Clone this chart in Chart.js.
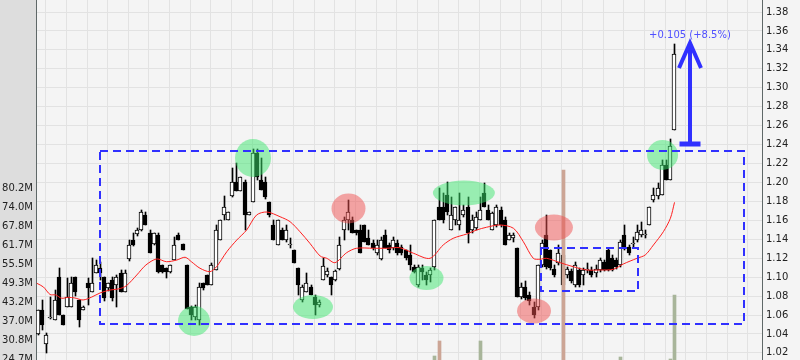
<!DOCTYPE html>
<html>
<head>
<meta charset="utf-8">
<script src="https://cdn.jsdelivr.net/npm/chart.js@4.4.1/dist/chart.umd.min.js"></script>
<style>
  html, body { margin: 0; padding: 0; background: #f4f4f4; }
  canvas { display: block; }
</style>
</head>
<body>
<canvas id="chart" width="800" height="360"></canvas>
<script>
// daily candles, index 0..154
const opens = [
  1.0400, 1.0653, 1.0294, 1.0570, 1.0548, 1.1002, 1.0600, 1.0685, 1.0685, 1.1002,
  1.0759, 1.0653, 1.0938, 1.0844, 1.1044, 1.1097, 1.1002, 1.0885, 1.0970, 1.0917,
  1.1044, 1.0844, 1.1192, 1.1392, 1.1456, 1.1498, 1.1656, 1.1466, 1.1350, 1.1445,
  1.1128, 1.1097, 1.1055, 1.1181, 1.1445, 1.1350, 1.1128, 1.0685, 1.0580, 1.0548,
  1.0938, 1.1023, 1.0917, 1.1076, 1.1392, 1.1656, 1.1604, 1.1857, 1.2005, 1.1905,
  1.2005, 1.1656, 1.1794, 1.2311, 1.2026, 1.2005, 1.1794, 1.1551, 1.1340, 1.1498,
  1.1392, 1.1340, 1.1287, 1.1097, 1.0759, 1.0844, 1.0896, 1.0791, 1.0706, 1.0970,
  1.1023, 1.1002, 1.0970, 1.1086, 1.1498, 1.1604, 1.1604, 1.1498, 1.1498, 1.1551,
  1.1413, 1.1361, 1.1255, 1.1192, 1.1445, 1.1340, 1.1308, 1.1361, 1.1319, 1.1287,
  1.1234, 1.1107, 1.0917, 1.1097, 1.1023, 1.1023, 1.1107, 1.1741, 1.1741, 1.1868,
  1.1498, 1.1604, 1.1551, 1.1656, 1.1741, 1.1498, 1.1519, 1.1604, 1.1889, 1.1709,
  1.1498, 1.1551, 1.1709, 1.1604, 1.1392, 1.1413, 1.1308, 1.0791, 1.0896, 1.0812,
  1.0685, 1.0685, 1.1128, 1.1445, 1.1287, 1.1086, 1.1150, 1.1234, 1.1023, 1.1065,
  1.0917, 1.1076, 1.1023, 1.1076, 1.1076, 1.1044, 1.1076, 1.1160, 1.1287, 1.1202,
  1.1181, 1.1128, 1.1445, 1.1319, 1.1350, 1.1392, 1.1445, 1.1445, 1.1551, 1.1815,
  1.1857, 1.1868, 1.2184, 1.2026, 1.2554
];
const highs = [
  1.0653, 1.0759, 1.0410, 1.0791, 1.0864, 1.1097, 1.0600, 1.0990, 1.1002, 1.1002,
  1.0759, 1.0700, 1.0990, 1.1200, 1.1181, 1.1160, 1.1002, 1.0938, 1.1000, 1.1023,
  1.1076, 1.1076, 1.1392, 1.1466, 1.1519, 1.1709, 1.1688, 1.1498, 1.1466, 1.1466,
  1.1128, 1.1097, 1.1128, 1.1424, 1.1466, 1.1350, 1.1128, 1.0700, 1.0706, 1.0938,
  1.0938, 1.1023, 1.1150, 1.1551, 1.1604, 1.1857, 1.1688, 1.2153, 1.2206, 1.2053,
  1.2026, 1.1688, 1.2354, 1.2354, 1.2258, 1.2058, 1.1794, 1.1604, 1.1604, 1.1519,
  1.1551, 1.1413, 1.1287, 1.1097, 1.0917, 1.1044, 1.0917, 1.0812, 1.0759, 1.1202,
  1.1097, 1.1002, 1.1076, 1.1424, 1.1635, 1.1815, 1.1635, 1.1498, 1.1551, 1.1551,
  1.1498, 1.1392, 1.1392, 1.1424, 1.1498, 1.1361, 1.1424, 1.1392, 1.1340, 1.1287,
  1.1340, 1.1128, 1.1128, 1.1128, 1.1055, 1.1097, 1.1604, 1.1942, 1.1889, 1.2005,
  1.1847, 1.1741, 1.1889, 1.1762, 1.1847, 1.1656, 1.1688, 1.1847, 1.1995, 1.1762,
  1.1688, 1.1762, 1.1741, 1.1635, 1.1466, 1.1466, 1.1308, 1.0938, 1.0960, 1.0844,
  1.0738, 1.1128, 1.1392, 1.1656, 1.1287, 1.1128, 1.1340, 1.1392, 1.1107, 1.1086,
  1.1160, 1.1097, 1.1097, 1.1150, 1.1107, 1.1128, 1.1202, 1.1181, 1.1308, 1.1234,
  1.1202, 1.1392, 1.1551, 1.1340, 1.1424, 1.1551, 1.1582, 1.1498, 1.1741, 1.1942,
  1.1995, 1.2237, 1.2237, 1.2460, 1.3462
];
const lows = [
  1.0389, 1.0442, 1.0200, 1.0560, 1.0548, 1.0600, 1.0495, 1.0685, 1.0685, 1.0800,
  1.0470, 1.0650, 1.0706, 1.0844, 1.1044, 1.0970, 1.0750, 1.0855, 1.0750, 1.0685,
  1.0844, 1.0844, 1.1170, 1.1330, 1.1430, 1.1490, 1.1550, 1.1255, 1.1340, 1.1044,
  1.1044, 1.0991, 1.1044, 1.1181, 1.1392, 1.1287, 1.0664, 1.0550, 1.0548, 1.0495,
  1.0864, 1.0917, 1.0917, 1.1076, 1.1392, 1.1604, 1.1604, 1.1847, 1.1905, 1.1905,
  1.1498, 1.1656, 1.1794, 1.2026, 1.1920, 1.1826, 1.1640, 1.1392, 1.1340, 1.1392,
  1.1372, 1.1308, 1.1150, 1.0812, 1.0738, 1.0844, 1.0812, 1.0600, 1.0685, 1.0970,
  1.1002, 1.0812, 1.0960, 1.1076, 1.1392, 1.1498, 1.1466, 1.1445, 1.1255, 1.1372,
  1.1340, 1.1287, 1.1234, 1.1181, 1.1308, 1.1255, 1.1287, 1.1234, 1.1234, 1.1181,
  1.1076, 1.1044, 1.0896, 1.0970, 1.0917, 1.0950, 1.1076, 1.1604, 1.1572, 1.1656,
  1.1498, 1.1551, 1.1498, 1.1635, 1.1361, 1.1466, 1.1498, 1.1604, 1.1741, 1.1604,
  1.1498, 1.1530, 1.1530, 1.1340, 1.1392, 1.1372, 1.0791, 1.0770, 1.0759, 1.0706,
  1.0569, 1.0653, 1.1107, 1.1086, 1.1076, 1.1002, 1.1128, 1.0864, 1.0991, 1.0938,
  1.0896, 1.0896, 1.0917, 1.1044, 1.1002, 1.1002, 1.1055, 1.1065, 1.1065, 1.1065,
  1.1086, 1.1107, 1.1287, 1.1234, 1.1319, 1.1372, 1.1424, 1.1413, 1.1551, 1.1794,
  1.1826, 1.1868, 1.2026, 1.2026, 1.2554
];
const closes = [
  1.0653, 1.0495, 1.0389, 1.0580, 1.0759, 1.0600, 1.0495, 1.0791, 1.0938, 1.0844,
  1.0548, 1.0685, 1.0885, 1.0938, 1.1128, 1.1044, 1.0780, 1.0938, 1.0780, 1.1002,
  1.0844, 1.1044, 1.1340, 1.1340, 1.1498, 1.1688, 1.1551, 1.1255, 1.1466, 1.1055,
  1.1055, 1.1055, 1.1128, 1.1340, 1.1392, 1.1287, 1.0664, 1.0600, 1.0685, 1.0896,
  1.0885, 1.0917, 1.1128, 1.1498, 1.1604, 1.1741, 1.1688, 1.2005, 1.1905, 1.2053,
  1.1656, 1.1688, 1.2311, 1.2058, 1.1920, 1.1847, 1.1656, 1.1392, 1.1604, 1.1392,
  1.1498, 1.1345, 1.1150, 1.0917, 1.0896, 1.0938, 1.0812, 1.0706, 1.0738, 1.1118,
  1.1065, 1.0917, 1.1065, 1.1340, 1.1604, 1.1688, 1.1466, 1.1466, 1.1255, 1.1372,
  1.1340, 1.1308, 1.1340, 1.1392, 1.1308, 1.1287, 1.1392, 1.1255, 1.1255, 1.1202,
  1.1128, 1.1055, 1.1107, 1.1055, 1.0970, 1.1076, 1.1604, 1.1604, 1.1604, 1.1688,
  1.1656, 1.1741, 1.1604, 1.1709, 1.1466, 1.1604, 1.1635, 1.1709, 1.1741, 1.1604,
  1.1677, 1.1741, 1.1551, 1.1340, 1.1445, 1.1445, 1.0791, 1.0896, 1.0780, 1.0749,
  1.0600, 1.1128, 1.1361, 1.1107, 1.1097, 1.1023, 1.1255, 1.0917, 1.1086, 1.0960,
  1.1128, 1.0917, 1.1076, 1.1086, 1.1023, 1.1086, 1.1181, 1.1076, 1.1076, 1.1076,
  1.1107, 1.1372, 1.1308, 1.1255, 1.1361, 1.1477, 1.1498, 1.1456, 1.1741, 1.1868,
  1.1942, 1.2184, 1.2026, 1.2385, 1.3356
];

// moving average (candle index, price)
const maX = [-0.4, 1.2, 2.8, 4.2, 5.6, 7.2, 8.8, 10.8, 12.9, 14.9, 17.3, 19.3, 21.2, 23.8, 26.0, 28.6,
  31.0, 33.5, 35.5, 37.1, 39.1, 41.5, 43.1, 45.6, 48.0, 50.4, 52.8, 55.3, 58.5, 60.9, 63.3, 65.7,
  68.2, 69.8, 71.8, 74.6, 77.0, 81.1, 84.3, 87.5, 90.8, 94.8, 98.0, 100.4, 103.7, 106.1, 108.5,
  111.7, 115.0, 117.4, 119.8, 121.4, 123.0, 126.3, 129.5, 132.7, 136.0, 139.2, 141.6, 144.9,
  146.9, 148.9, 151.3, 153.0, 154.0];
const maY = [1.0935, 1.0896, 1.0817, 1.0812, 1.0777, 1.0787, 1.0780, 1.0759, 1.0790, 1.0833, 1.0864,
  1.0875, 1.0907, 1.1023, 1.1128, 1.1192, 1.1163, 1.1181, 1.1210, 1.1160, 1.1094, 1.1058, 1.1110,
  1.1269, 1.1392, 1.1498, 1.1656, 1.1688, 1.1638, 1.1586, 1.1480, 1.1358, 1.1223, 1.1199, 1.1153,
  1.1258, 1.1305, 1.1305, 1.1305, 1.1311, 1.1252, 1.1199, 1.1340, 1.1410, 1.1456, 1.1498, 1.1527,
  1.1551, 1.1516, 1.1374, 1.1199, 1.1189, 1.1199, 1.1153, 1.1110, 1.1076, 1.1076, 1.1083, 1.1139,
  1.1199, 1.1234, 1.1340, 1.1480, 1.1622, 1.1790];

// volume (millions), only the bars tall enough to show above the bottom edge
const volIdx = [96, 97, 107, 127, 141, 153, 154];
const volVals = [25.6, 30.5, 30.5, 86.0, 25.3, 24.8, 45.5];

// axis ticks
const priceTicks = [1.02, 1.04, 1.06, 1.08, 1.10, 1.12, 1.14, 1.16, 1.18, 1.20,
  1.22, 1.24, 1.26, 1.28, 1.30, 1.32, 1.34, 1.36, 1.38];
const volTickVals = [24.66, 30.83, 36.99, 43.16, 49.32, 55.49, 61.65, 67.82, 73.98, 80.15];
const volTickLabels = ['24.7M', '30.8M', '37.0M', '43.2M', '49.3M', '55.5M', '61.7M', '67.8M', '74.0M', '80.2M'];
const gridIdx = [];
for (let g = 1.75; g < 175; g += 5) gridIdx.push(g);

// drawings on top of the chart (candle index / price)
const boxes = [
  { x0: 14.9, x1: 170.8, top: 1.2332, bottom: 1.0505 },
  { x0: 121.7, x1: 145.2, top: 1.1308, bottom: 1.0854 }
];
const GREEN = 'rgba(60, 230, 110, 0.5)';
const RED = 'rgba(240, 80, 80, 0.5)';
const spots = [
  { x: 37.65, y: 1.0537, rx: 16, ry: 15, c: GREEN },
  { x: 51.94, y: 1.2258, rx: 18, ry: 19, c: GREEN },
  { x: 66.46, y: 1.0685, rx: 20, ry: 12, c: GREEN },
  { x: 93.95, y: 1.0991, rx: 17, ry: 12, c: GREEN },
  { x: 103.0, y: 1.1889, rx: 31, ry: 12.5, c: GREEN },
  { x: 151.1, y: 1.2290, rx: 15.5, ry: 15, c: GREEN },
  { x: 75.06, y: 1.1725, rx: 17, ry: 15, c: RED },
  { x: 124.8, y: 1.1524, rx: 19, ry: 13, c: RED },
  { x: 119.98, y: 1.0643, rx: 17, ry: 12.5, c: RED }
];
const arrow = { x: 157.75, from: 1.2406, to: 1.3473, textY: 1.3557, label: '+0.105 (+8.5%)' };

const BLUE = '#3030ff';
const AXIS = '#5f6868';
const GRID = '#e2e2e2';

const up = opens.map((o, i) => closes[i] >= o);

const bgPlugin = {
  id: 'bg',
  beforeDraw(chart) {
    const { ctx, chartArea } = chart;
    ctx.save();
    ctx.fillStyle = '#f4f4f4';
    ctx.fillRect(0, 0, chart.width, chart.height);
    ctx.fillStyle = '#dddddd';
    ctx.fillRect(0, 0, chartArea.left, chart.height);
    ctx.restore();
  }
};

// line bars up with whole pixels so the thin candles stay sharp
const snapPlugin = {
  id: 'snap',
  afterDatasetsUpdate(chart) {
    chart.data.datasets.forEach((ds, di) => {
      const meta = chart.getDatasetMeta(di);
      if (meta.type !== 'bar') return;
      const even = (ds.barThickness % 2) === 0;
      meta.data.forEach(el => {
        el.x = Math.floor(el.x) + (even ? 0 : 0.5);
        el.y = Math.round(el.y);
        el.base = Math.round(el.base);
        if (Math.abs(el.base - el.y) < 1) el.base = el.y + 1;
      });
    });
  }
};

const drawPlugin = {
  id: 'drawings',
  afterDatasetsDraw(chart) {
    const { ctx } = chart;
    const x = chart.scales.x, y = chart.scales.y;
    ctx.save();
    spots.forEach(s => {
      ctx.beginPath();
      ctx.ellipse(x.getPixelForValue(s.x), y.getPixelForValue(s.y), s.rx, s.ry, 0, 0, Math.PI * 2);
      ctx.fillStyle = s.c;
      ctx.fill();
    });

    ctx.strokeStyle = BLUE;
    ctx.lineWidth = 2;
    ctx.setLineDash([8, 5]);
    boxes.forEach(b => {
      const l = Math.round(x.getPixelForValue(b.x0)), r = Math.round(x.getPixelForValue(b.x1));
      const t = Math.round(y.getPixelForValue(b.top)), bt = Math.round(y.getPixelForValue(b.bottom));
      ctx.strokeRect(l, t, r - l, bt - t);
    });
    ctx.setLineDash([]);

    // arrow
    const ax = Math.round(x.getPixelForValue(arrow.x));
    const yb = y.getPixelForValue(arrow.from);
    const yt = y.getPixelForValue(arrow.to);
    ctx.fillStyle = BLUE;
    ctx.lineWidth = 4;
    ctx.beginPath();
    ctx.moveTo(ax, yb);
    ctx.lineTo(ax, yt + 2);
    ctx.stroke();
    ctx.beginPath();
    ctx.moveTo(ax - 11, yt + 25);
    ctx.lineTo(ax, yt);
    ctx.lineTo(ax + 11, yt + 25);
    ctx.stroke();
    ctx.fillRect(ax - 10.5, Math.round(yb) - 2.5, 21, 5);

    ctx.fillStyle = '#5050ff';
    ctx.font = '10px "DejaVu Sans"';
    ctx.textAlign = 'center';
    ctx.textBaseline = 'middle';
    ctx.fillText(arrow.label, ax, y.getPixelForValue(arrow.textY));
    ctx.restore();
  }
};

const tickFont = { family: 'DejaVu Sans', size: 10 };

new Chart(document.getElementById('chart'), {
  type: 'bar',
  data: {
    datasets: [
      {
        type: 'line',
        data: maX.map((v, k) => ({ x: v, y: maY[k] })),
        borderColor: '#ff2020',
        borderWidth: 1,
        pointRadius: 0,
        tension: 0.3,
        order: 0
      },
      {
        type: 'bar',
        yAxisID: 'vol',
        data: volIdx.map((v, k) => ({ x: v, y: volVals[k] })),
        backgroundColor: volIdx.map(i => up[i] ? '#a8b59a' : '#cca595'),
        barThickness: 3,
        grouped: false,
        order: 1
      },
      {
        type: 'bar',
        data: opens.map((o, i) => ({ x: i, y: [o, closes[i]] })),
        backgroundColor: up.map(u => u ? '#ffffff' : '#000000'),
        borderColor: '#000000',
        borderWidth: 1,
        borderSkipped: false,
        barThickness: 4,
        minBarLength: 1,
        grouped: false,
        order: 2
      },
      {
        type: 'bar',
        data: highs.map((h, i) => ({ x: i, y: [lows[i], h] })),
        backgroundColor: '#000000',
        borderWidth: 0,
        barThickness: 1,
        grouped: false,
        order: 3
      }
    ]
  },
  options: {
    responsive: false,
    animation: false,
    events: [],
    layout: { padding: 0, autoPadding: false },
    plugins: { legend: { display: false }, tooltip: { enabled: false } },
    scales: {
      x: {
        type: 'linear',
        min: -0.6053,
        max: 175.18,
        offset: false,
        grid: { color: GRID, drawTicks: false, offset: false },
        border: { display: false },
        ticks: { display: false },
        afterBuildTicks: s => { s.ticks = gridIdx.map(v => ({ value: v })); },
        afterFit: s => { s.height = 0; s.paddingLeft = 0; s.paddingRight = 0; }
      },
      y: {
        position: 'right',
        min: 1.0125,
        max: 1.3927,
        grid: { color: GRID, drawTicks: false },
        border: { color: AXIS, width: 1 },
        ticks: {
          color: '#222',
          font: tickFont,
          padding: 4,
          autoSkip: false,
          callback: v => v.toFixed(2)
        },
        afterBuildTicks: s => { s.ticks = priceTicks.map(v => ({ value: v })); },
        afterFit: s => { s.width = 38; s.paddingTop = 0; s.paddingBottom = 0; }
      },
      vol: {
        position: 'left',
        min: 24.35,
        max: 141.2,
        grid: { drawOnChartArea: false, drawTicks: false },
        border: { color: AXIS, width: 1 },
        ticks: {
          color: '#222',
          font: tickFont,
          padding: 3,
          autoSkip: false,
          callback: (v, i) => volTickLabels[i]
        },
        afterBuildTicks: s => { s.ticks = volTickVals.map(v => ({ value: v })); },
        afterFit: s => { s.width = 36; s.paddingTop = 0; s.paddingBottom = 0; }
      }
    }
  },
  plugins: [bgPlugin, snapPlugin, drawPlugin]
});
</script>
</body>
</html>
